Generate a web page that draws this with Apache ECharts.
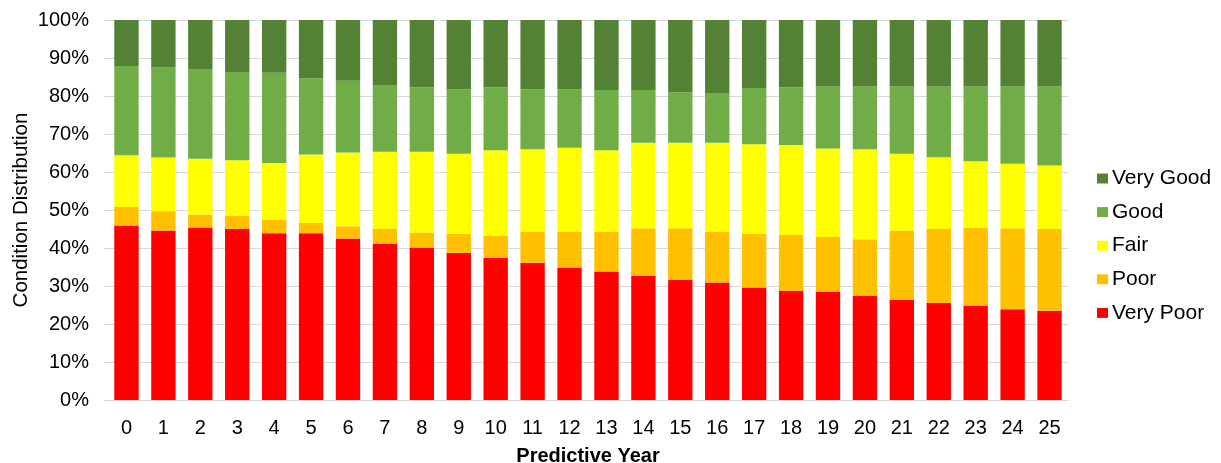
<!DOCTYPE html>
<html>
<head>
<meta charset="utf-8">
<script src="https://cdn.jsdelivr.net/npm/echarts@6/dist/echarts.min.js"></script>
<style>
  html, body { margin: 0; padding: 0; background: #fff; }
  #chart { width: 1221px; height: 463px; }
</style>
</head>
<body>
<div id="chart"></div>
<script>
// Predictive years on the category axis
const years = ['0','1','2','3','4','5','6','7','8','9','10','11','12','13','14','15','16','17','18','19','20','21','22','23','24','25'];

// Share of the network in each condition band (%)
const veryPoor = [45.9,44.6,45.4,45.0,43.9,43.9,42.5,41.1,40.1,38.7,37.4,36.1,34.9,33.8,32.7,31.6,30.9,29.6,28.7,28.4,27.4,26.4,25.5,24.9,23.9,23.5];
const poor     = [4.9,5.1,3.4,3.5,3.6,2.7,3.2,3.9,4.0,5.0,5.8,8.2,9.4,10.5,12.5,13.6,13.4,14.1,14.7,14.5,14.9,18.2,19.5,20.5,21.3,21.5];
const fair     = [13.6,14.1,14.7,14.6,14.9,18.0,19.4,20.3,21.2,21.1,22.5,21.7,22.1,21.4,22.5,22.5,23.4,23.6,23.7,23.3,23.7,20.2,18.9,17.4,17.0,16.7];
const good     = [23.5,23.7,23.6,23.2,23.7,20.1,18.9,17.6,17.0,17.0,16.6,15.8,15.4,15.9,13.9,13.3,13.1,14.8,15.2,16.3,16.5,17.7,18.6,19.7,20.3,20.8];
const veryGood = [12.1,12.5,12.9,13.7,13.9,15.3,16.0,17.1,17.7,18.2,17.7,18.2,18.2,18.4,18.4,19.0,19.2,17.9,17.7,17.5,17.5,17.5,17.5,17.5,17.5,17.5];

// Y-axis tick values (%)
const yTicks = [0,10,20,30,40,50,60,70,80,90,100];

const FONT = 'Liberation Sans, Arial, sans-serif';
const FS = 20;

const bands = [
  { name: 'Very Poor', data: veryPoor, color: '#ff0000' },
  { name: 'Poor',      data: poor,     color: '#ffc000' },
  { name: 'Fair',      data: fair,     color: '#ffff00' },
  { name: 'Good',      data: good,     color: '#70ad47' },
  { name: 'Very Good', data: veryGood, color: '#548235' }
];

const chart = echarts.init(document.getElementById('chart'), null, { renderer: 'canvas' });

chart.setOption({
  animation: false,
  textStyle: { fontFamily: FONT },
  grid: { left: 108, right: 153, top: 20, bottom: 63, containLabel: false, outerBoundsMode: 'none' },
  legend: {
    orient: 'vertical',
    left: 1092,
    top: 163,
    itemWidth: 11,
    itemHeight: 10,
    itemGap: 12.6,
    icon: 'rect',
    data: ['Very Good', 'Good', 'Fair', 'Poor', 'Very Poor'],
    textStyle: { fontFamily: FONT, fontSize: 21, color: '#000', padding: [0, 0, 0, -1] }
  },
  xAxis: {
    type: 'category',
    data: years,
    name: 'Predictive Year',
    nameLocation: 'middle',
    nameGap: 46,
    nameMoveOverlap: false,
    nameTextStyle: { fontFamily: FONT, fontSize: FS, fontWeight: 'bold', color: '#000' },
    axisLine: { lineStyle: { color: '#d9d9d9', width: 1 } },
    axisTick: { show: false },
    axisLabel: { fontFamily: FONT, fontSize: FS, color: '#000', margin: 18 }
  },
  yAxis: {
    type: 'value',
    min: yTicks[0],
    max: yTicks[yTicks.length - 1],
    interval: 10,
    name: 'Condition Distribution',
    nameLocation: 'middle',
    nameGap: 76,
    nameMoveOverlap: false,
    nameRotate: 90,
    nameTextStyle: { fontFamily: FONT, fontSize: 20.5, color: '#000' },
    axisLine: { show: false },
    axisTick: { show: true, length: 4, inside: false, lineStyle: { color: '#d9d9d9' } },
    splitLine: { lineStyle: { color: '#d9d9d9', width: 1 } },
    axisLabel: { fontFamily: FONT, fontSize: FS, color: '#000', margin: 19, formatter: v => v + '%' }
  },
  series: bands.map(b => ({
    name: b.name,
    type: 'bar',
    stack: 'total',
    barWidth: '66%',
    data: b.data,
    itemStyle: { color: b.color },
    emphasis: { disabled: true }
  }))
});
</script>
</body>
</html>
